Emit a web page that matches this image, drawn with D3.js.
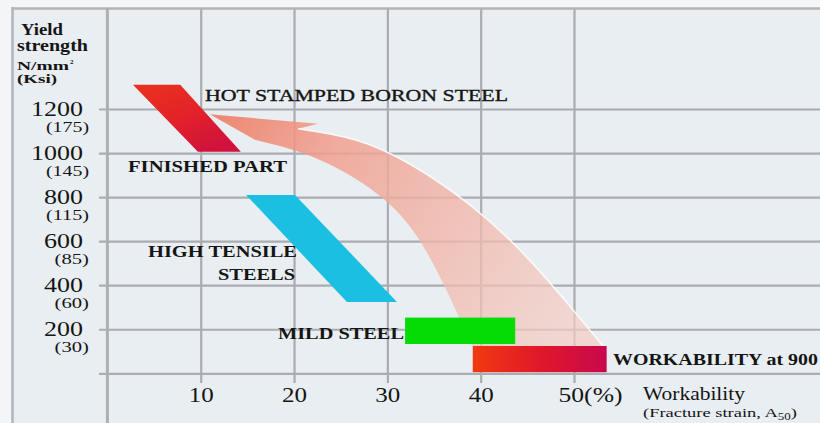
<!DOCTYPE html>
<html>
<head>
<meta charset="utf-8">
<script src="https://cdn.jsdelivr.net/npm/d3@7"></script>
<style>
  html, body { margin: 0; padding: 0; background: #f3f5f6; }
  svg { display: block; }
  svg text { font-family: "Liberation Serif", "Times New Roman", serif; }
</style>
</head>
<body>
<svg id="chart" width="820" height="423"></svg>
<script>
// ---- axis values ----
const strainTicks = [10, 20, 30, 40, 50];
const strainLabels = ["10", "20", "30", "40", "50(%)"];
const yieldTicks = [1200, 1000, 800, 600, 400, 200];
const ksiLabels = ["(175)", "(145)", "(115)", "(85)", "(60)", "(30)"];

// ---- material regions, points as [fracture strain %, yield strength N/mm²] ----
const hotStampedBand = [[2.74, 1310], [7.8, 1310], [14.3, 1006], [9.7, 1006]];
const highTensileBand = [[14.86, 810], [20.1, 810], [31.03, 324], [25.67, 324]];
const mildSteelStrain = [31.9, 43.7];
const mildSteelYield = [133, 253];
const hotWorkStrain = [39.15, 53.5];
const hotWorkYield = [5, 124];

// ---- forming arrow: from hot workability back up to the finished part ----
const arrowHead = [[20.42, 1110], [22.57, 1133], [10.97, 1176], [15.81, 1060]];
const arrowUpperEdge = [[20.42, 1110], [26.5, 1060], [32.4, 950], [38.8, 766],
                        [44.2, 560], [49.0, 333], [53.1, 124]];
const arrowLowerEdge = [[39.07, 124], [34.57, 524], [29.74, 787], [22.77, 969],
                        [15.81, 1060]];

const W = 820, H = 423;
const x = d3.scaleLinear().domain([0, 50]).range([107.4, 574]);
const y = d3.scaleLinear().domain([0, 1200]).range([373.3, 109]);

const svg = d3.select("#chart");
const defs = svg.append("defs");
const serif = "Liberation Serif, Times New Roman, serif";
const ink = "#151515";

// gradients
const gRed = defs.append("linearGradient").attr("id", "redBand")
  .attr("x1", 0).attr("y1", 0).attr("x2", 0.7).attr("y2", 1);
gRed.append("stop").attr("offset", 0).attr("stop-color", "#ea321c");
gRed.append("stop").attr("offset", 0.55).attr("stop-color", "#e2222a");
gRed.append("stop").attr("offset", 1).attr("stop-color", "#d0123c");

const gHot = defs.append("linearGradient").attr("id", "hotBar")
  .attr("x1", 0).attr("y1", 0).attr("x2", 1).attr("y2", 0);
gHot.append("stop").attr("offset", 0).attr("stop-color", "#f03a10");
gHot.append("stop").attr("offset", 0.5).attr("stop-color", "#e0182a");
gHot.append("stop").attr("offset", 1).attr("stop-color", "#c8084e");

const gArrow = defs.append("linearGradient").attr("id", "arrowFill")
  .attr("gradientUnits", "userSpaceOnUse")
  .attr("x1", x(11)).attr("y1", y(1176)).attr("x2", x(48)).attr("y2", y(150));
gArrow.append("stop").attr("offset", 0).attr("stop-color", "#ee8068").attr("stop-opacity", 0.95);
gArrow.append("stop").attr("offset", 0.3).attr("stop-color", "#f0a090").attr("stop-opacity", 0.85);
gArrow.append("stop").attr("offset", 1).attr("stop-color", "#f3cdc4").attr("stop-opacity", 0.7);

// panel background
svg.append("rect").attr("x", 12).attr("y", 8).attr("width", W - 12).attr("height", H - 8)
  .attr("fill", "#e9eef2");

const gridColor = "#a9acb0";

// horizontal grid lines (with the short ticks left of the axis)
svg.append("g").attr("transform", `translate(${W},0)`)
  .call(d3.axisLeft(y).tickValues([0, ...yieldTicks]).tickSize(W - 99).tickFormat(""))
  .call(g => g.select(".domain").remove())
  .call(g => g.selectAll("line").attr("stroke", gridColor).attr("stroke-width", 2.2));

// vertical grid lines
svg.append("g").attr("transform", "translate(0,383)")
  .call(d3.axisBottom(x).tickValues(strainTicks).tickSize(-375).tickFormat(""))
  .call(g => g.select(".domain").remove())
  .call(g => g.selectAll("line").attr("stroke", gridColor).attr("stroke-width", 2.2));

// frame lines and y axis
svg.append("line").attr("x1", 12.5).attr("x2", 12.5).attr("y1", 7).attr("y2", H)
  .attr("stroke", "#b2b4b7").attr("stroke-width", 2.5);
svg.append("line").attr("x1", 12).attr("x2", W).attr("y1", 8.5).attr("y2", 8.5)
  .attr("stroke", "#b2b4b7").attr("stroke-width", 2.5);
svg.append("line").attr("x1", x(0)).attr("x2", x(0)).attr("y1", 8).attr("y2", H)
  .attr("stroke", "#adb0b3").attr("stroke-width", 3);

// forming arrow
const edge = d3.line().x(d => x(d[0])).y(d => y(d[1])).curve(d3.curveNatural);
const straight = d3.line().x(d => x(d[0])).y(d => y(d[1]));
const arrowPath = edge(arrowUpperEdge)
  + edge(arrowLowerEdge).replace(/^M/, "L")
  + straight(arrowHead).replace(/^M/, "L") + "Z";
svg.append("path").attr("d", arrowPath).attr("fill", "url(#arrowFill)");
svg.append("path").attr("d", edge(arrowUpperEdge))
  .attr("fill", "none").attr("stroke", "#ffffff").attr("stroke-width", 1.6).attr("stroke-opacity", 0.85);

// material regions
const poly = d3.line().x(d => x(d[0])).y(d => y(d[1]));
svg.append("path").attr("d", poly(hotStampedBand) + "Z").attr("fill", "url(#redBand)");
svg.append("path").attr("d", poly(highTensileBand) + "Z").attr("fill", "#1bbfe2");
svg.append("rect")
  .attr("x", x(mildSteelStrain[0])).attr("width", x(mildSteelStrain[1]) - x(mildSteelStrain[0]))
  .attr("y", y(mildSteelYield[1])).attr("height", y(mildSteelYield[0]) - y(mildSteelYield[1]))
  .attr("fill", "#05dc05");
svg.append("rect")
  .attr("x", x(hotWorkStrain[0])).attr("width", x(hotWorkStrain[1]) - x(hotWorkStrain[0]))
  .attr("y", y(hotWorkYield[1])).attr("height", y(hotWorkYield[0]) - y(hotWorkYield[1]))
  .attr("fill", "url(#hotBar)");

// x axis labels
svg.append("g").attr("transform", `translate(0,${y(0)})`)
  .call(d3.axisBottom(x).tickValues(strainTicks).tickSize(0)
        .tickFormat(d => strainLabels[strainTicks.indexOf(d)]))
  .call(g => g.select(".domain").remove())
  .call(g => g.selectAll("text")
    .attr("y", 28.4).attr("dy", null)
    .attr("font-family", serif).attr("font-size", 21).attr("fill", ink)
    .attr("text-anchor", d => d === 50 ? "start" : "middle")
    .attr("x", d => d === 50 ? -16 : 0)
    .attr("lengthAdjust", "spacingAndGlyphs")
    .attr("textLength", d => d === 50 ? 64 : 25));

// y axis labels: N/mm² with ksi beneath
const yAxisG = svg.append("g").attr("transform", `translate(${x(0)},0)`)
  .call(d3.axisLeft(y).tickValues(yieldTicks).tickSize(0).tickFormat(d => String(d)))
  .call(g => g.select(".domain").remove());
yAxisG.selectAll(".tick text")
  .attr("x", -24.4).attr("y", 6.5).attr("dy", null)
  .attr("text-anchor", "end")
  .attr("font-family", serif).attr("font-size", 20.5).attr("fill", ink)
  .attr("lengthAdjust", "spacingAndGlyphs")
  .attr("textLength", d => String(d).length * 13);
yAxisG.selectAll(".tick").append("text")
  .text(d => ksiLabels[yieldTicks.indexOf(d)])
  .attr("x", -18.4).attr("y", 22)
  .attr("text-anchor", "end")
  .attr("font-family", serif).attr("font-size", 14).attr("fill", ink)
  .attr("lengthAdjust", "spacingAndGlyphs")
  .attr("textLength", d => ksiLabels[yieldTicks.indexOf(d)].length * 8.6);

// text helper
function label(txt, px, py, size, len, weight) {
  return svg.append("text").attr("x", px).attr("y", py).text(txt)
    .attr("font-family", serif)
    .attr("font-size", size).attr("font-weight", weight || "bold").attr("fill", ink)
    .attr("lengthAdjust", "spacingAndGlyphs").attr("textLength", len);
}

// y axis title
label("Yield", 21, 34.5, 16, 42);
label("strength", 17, 50.5, 16, 71);
label("N/mm", 17, 70, 13, 52);
svg.append("text").attr("x", 70).attr("y", 64).text("2")
  .attr("font-family", serif).attr("font-size", 7).attr("font-weight", "bold").attr("fill", ink);
label("(Ksi)", 17, 83, 12.5, 40);

// region annotations
label("HOT STAMPED BORON STEEL", 205, 101, 16.5, 303, "normal")
  .attr("stroke", ink).attr("stroke-width", 0.35);
label("FINISHED PART", 128, 172, 17.5, 159);
label("HIGH TENSILE", 148, 257, 17, 149);
label("STEELS", 218, 280, 17, 77);
label("MILD STEEL", 278, 339, 17, 126);
label("WORKABILITY at 900", 613, 365, 17.5, 205);

// x axis title
label("Workability", 643, 400, 18, 102, "normal");
const sub = svg.append("text").attr("x", 643).attr("y", 416.5)
  .attr("font-family", serif).attr("font-size", 13.5).attr("fill", ink);
sub.append("tspan").text("(Fracture strain, A");
sub.append("tspan").text("50").attr("font-size", 9.5).attr("dy", 3);
sub.append("tspan").text(")").attr("dy", -3);
sub.attr("lengthAdjust", "spacingAndGlyphs").attr("textLength", 154);
</script>
</body>
</html>
